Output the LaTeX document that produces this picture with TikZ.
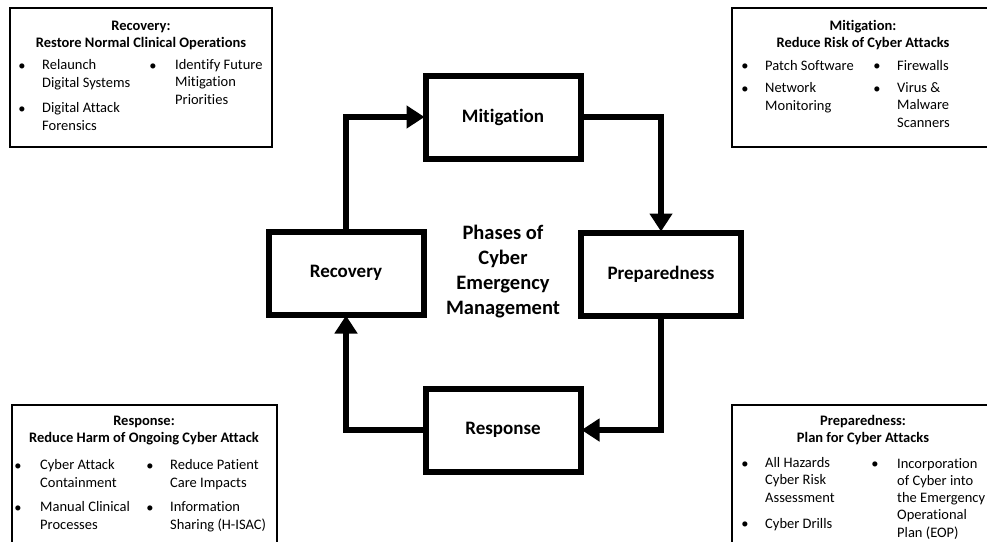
\documentclass[tikz,border=0pt]{standalone}
\usepackage{fontspec}
\setmainfont{Carlito}[Ligatures=NoCommon]
\usetikzlibrary{arrows.meta}
\tikzset{
  phase/.style={draw, line width=6pt, minimum width=155pt, minimum height=83pt,
    font=\fontsize{19}{23}\selectfont\bfseries},
  flow/.style={line width=6pt, -{Triangle[length=18pt,width=22pt]}, shorten >=-2pt},
  panel/.style={line width=1.5pt},
  head/.style={anchor=base, align=center, inner sep=0pt, font=\fontsize{14.5}{17}\selectfont\bfseries},
  item/.style={anchor=base west, align=left, inner sep=0pt, font=\fontsize{14.5}{17.2}\selectfont},
  dot/.style={anchor=base, inner sep=0pt, font=\fontsize{14.5}{17}\selectfont}
}
\begin{document}
\begin{tikzpicture}[x=1pt, y=-1pt]
  \useasboundingbox (0,0) rectangle (987,541);
  \clip (0,0) rectangle (987,541);
  \fill[white] (0,0) rectangle (987,541);

  % phases
  \node[phase] (mitig) at (503,117) {Mitigation};
  \node[phase, minimum width=160pt] (prep) at (661,274) {Preparedness};
  \node[phase] (recov) at (346,273) {Recovery};
  \node[phase] (resp) at (503,430) {Response};
  \node[align=center, font=\fontsize{20.5}{25}\selectfont\bfseries] (title) at (503,272)
    {Phases of\\Cyber\\Emergency\\Management};

  % cycle
  \draw[flow] (recov.north) |- (mitig.west);
  \draw[flow] (mitig.east) -| (prep.north);
  \draw[flow] (prep.south) |- (resp.east);
  \draw[flow] (resp.west) -| (recov.south);

  % recovery panel (base = last line)
  \draw[panel] (10,8) rectangle (272,147);
  \node[head] (recovhead) at (141,47) {Recovery:\\Restore Normal Clinical Operations};
  \node[dot] at (22,70) {•};
  \node[item] (recov1) at (42,87) {Relaunch\\Digital Systems};
  \node[dot] at (22,113) {•};
  \node[item] (recov2) at (42,130) {Digital Attack\\Forensics};
  \node[dot] at (153,70) {•};
  \node[item] (recov3) at (175,104) {Identify Future\\Mitigation\\Priorities};

  % mitigation panel
  \draw[panel] (732,8) rectangle (1000,147);
  \node[head] (mitighead) at (863,47) {Mitigation:\\Reduce Risk of Cyber Attacks};
  \node[dot] at (745,70) {•};
  \node[item] (mitig1) at (765,70) {Patch Software};
  \node[dot] at (745,93) {•};
  \node[item] (mitig2) at (765,110) {Network\\Monitoring};
  \node[dot] at (877,70) {•};
  \node[item] (mitig3) at (897,70) {Firewalls};
  \node[dot] at (877,93) {•};
  \node[item] (mitig4) at (897,127) {Virus \&\\Malware\\Scanners};

  % response panel
  \draw[panel] (12,405) rectangle (277,560);
  \node[head] (resphead) at (144,442) {Response:\\Reduce Harm of Ongoing Cyber Attack};
  \node[dot] at (18,470) {•};
  \node[item] (resp1) at (40,487) {Cyber Attack\\Containment};
  \node[dot] at (18,512) {•};
  \node[item] (resp2) at (40,529) {Manual Clinical\\Processes};
  \node[dot] at (150,470) {•};
  \node[item] (resp3) at (170,487) {Reduce Patient\\Care Impacts};
  \node[dot] at (150,512) {•};
  \node[item] (resp4) at (170,529) {Information\\Sharing (H-ISAC)};

  % preparedness panel
  \draw[panel] (732,405) rectangle (1000,560);
  \node[head] (prephead) at (863,442) {Preparedness:\\Plan for Cyber Attacks};
  \node[dot] at (745,468) {•};
  \node[item] (prep1) at (765,502) {All Hazards\\Cyber Risk\\Assessment};
  \node[dot] at (745,528) {•};
  \node[item] (prep2) at (765,528) {Cyber Drills};
  \node[dot] at (875,468) {•};
  \node[item] (prep3) at (897,537) {Incorporation\\of Cyber into\\the Emergency\\Operational\\Plan (EOP)};
\end{tikzpicture}
\end{document}
